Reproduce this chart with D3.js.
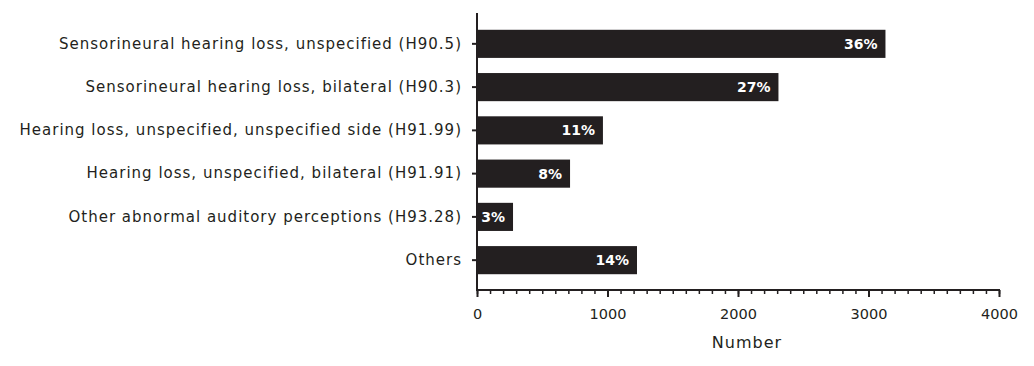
<!DOCTYPE html>
<meta charset="utf-8">
<style>
body { margin: 0; background: #fff; }
svg text { font-family: 'DejaVu Sans', sans-serif; fill: #231f20; }
.axis path, .axis line { stroke: #231f20; }
.pct { fill: #fff; font-weight: bold; }
</style>
<svg width="1034" height="366"></svg>
<script src="https://d3js.org/d3.v7.min.js"></script>
<script>

var categories = [
  "Sensorineural hearing loss, unspecified (H90.5)",
  "Sensorineural hearing loss, bilateral (H90.3)",
  "Hearing loss, unspecified, unspecified side (H91.99)",
  "Hearing loss, unspecified, bilateral (H91.91)",
  "Other abnormal auditory perceptions (H93.28)",
  "Others"
];
var counts = [3130, 2310, 965, 713, 276, 1226];
var percents = ["36%", "27%", "11%", "8%", "3%", "14%"];
var xTicks = [0, 1000, 2000, 3000, 4000];

var svg = d3.select("svg"),
    plotLeft = 477, plotRight = 999, plotTop = 22, plotBottom = 282;

var x = d3.scaleLinear().domain([0, 4000]).range([plotLeft, plotRight]);
var y = d3.scaleBand().domain(categories).range([plotTop, plotBottom]).paddingInner(0.35).paddingOuter(0.18);

// bars
svg.selectAll("rect.bar")
  .data(categories)
  .enter().append("rect")
    .attr("class", "bar")
    .attr("x", x(0))
    .attr("y", function(d) { return y(d); })
    .attr("width", function(d, i) { return x(counts[i]) - x(0); })
    .attr("height", y.bandwidth())
    .attr("fill", "#231f20");

svg.selectAll("text.pct")
  .data(categories)
  .enter().append("text")
    .attr("class", "pct")
    .attr("x", function(d, i) { return x(counts[i]) - 8; })
    .attr("y", function(d) { return y(d) + y.bandwidth() / 2; })
    .attr("dy", "0.36em")
    .attr("text-anchor", "end")
    .style("font-size", "14px")
    .text(function(d, i) { return percents[i]; });

// y axis
var yAxis = svg.append("g")
    .attr("class", "axis")
    .attr("transform", "translate(" + plotLeft + ",0)")
    .call(d3.axisLeft(y).tickSize(5).tickPadding(10));
yAxis.select(".domain").remove();
yAxis.append("line").attr("x1", 0).attr("x2", 0).attr("y1", 13).attr("y2", 291).attr("stroke-width", 2);
yAxis.selectAll(".tick line").attr("stroke-width", 2);
yAxis.selectAll("text")
    .style("font-size", "15px")
    .style("letter-spacing", "1px")
    .attr("fill", "#231f20");

// x axis: minor ticks every 100, major every 1000
var xg = svg.append("g")
    .attr("class", "axis")
    .attr("transform", "translate(0,290)");
xg.call(d3.axisBottom(x).tickValues(d3.range(0, 4001, 100)).tickSize(4).tickFormat(""));
xg.select(".domain").remove();
xg.selectAll(".tick line").attr("stroke-width", 1.5);
var major = svg.append("g")
    .attr("class", "axis")
    .attr("transform", "translate(0,290)")
    .call(d3.axisBottom(x).tickValues(xTicks).tickSize(7).tickPadding(12).tickFormat(d3.format("d")));
major.select(".domain").remove();
major.selectAll(".tick line").attr("stroke-width", 2);
major.selectAll("text").style("font-size", "14.5px").attr("fill", "#231f20");
major.append("line").attr("x1", plotLeft - 1).attr("x2", plotRight + 1).attr("y1", 0).attr("y2", 0).attr("stroke-width", 2);

svg.append("text")
    .attr("x", (plotLeft + plotRight) / 2 + 9)
    .attr("y", 348)
    .attr("text-anchor", "middle")
    .style("font-size", "16px")
    .style("letter-spacing", "1px")
    .text("Number");
</script>
